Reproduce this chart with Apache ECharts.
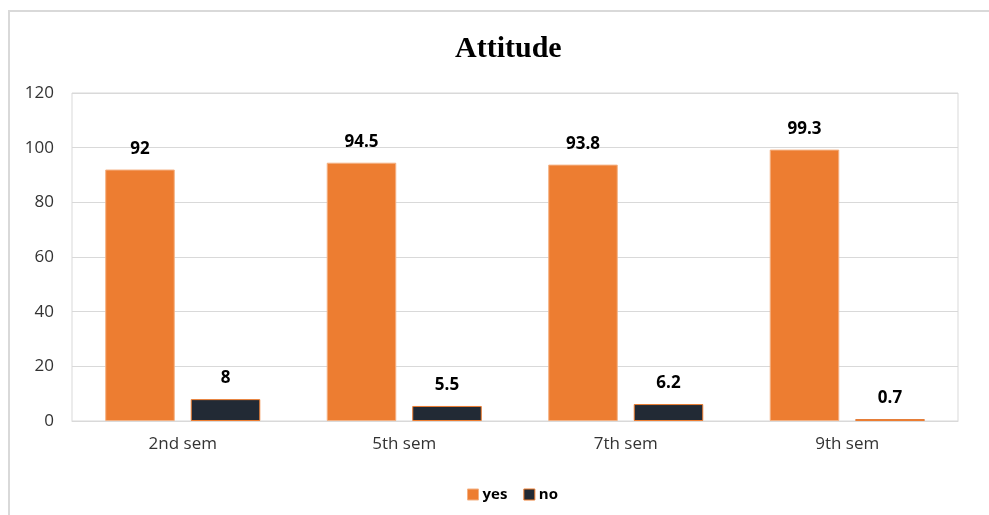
<!DOCTYPE html>
<html>
<head>
<meta charset="utf-8">
<script src="https://cdn.jsdelivr.net/npm/echarts@6/dist/echarts.min.js"></script>
<style>html,body{margin:0;padding:0;background:#fff;}#c{width:989px;height:515px;}</style>
</head>
<body>
<div id="c"></div>
<script>
const categories = ['2nd sem', '5th sem', '7th sem', '9th sem'];
const yesValues = [92, 94.5, 93.8, 99.3];
const noValues = [8, 5.5, 6.2, 0.7];
const yTicks = [0, 20, 40, 60, 80, 100, 120];

const chart = echarts.init(document.getElementById('c'));
const labelStyle = {show: true, position: 'top', distance: 12, fontSize: 17, fontWeight: 'bold', color: '#000', fontFamily: 'Open Sans'};
chart.setOption({
  animation: false,
  title: {text: 'Attitude', left: 450, top: 29, textStyle: {fontFamily: 'Liberation Serif', fontSize: 30, fontWeight: 'bold', color: '#000'}},
  graphic: [
    {type: 'polyline', shape: {points: [[9, 515], [9, 11], [989, 11]]}, style: {stroke: '#d9d9d9', lineWidth: 2, fill: null}}
  ],
  legend: {top: 482, left: 462, itemWidth: 11, itemHeight: 11, itemGap: 16, icon: 'rect',
    itemStyle: {borderWidth: 1},
    textStyle: {fontSize: 15, fontWeight: 'bold', color: '#000', fontFamily: 'Open Sans', padding: [0, 0, 0, -1]}},
  grid: {left: 72, right: 31, top: 93, bottom: 94, show: true, borderColor: '#d9d9d9', borderWidth: 1},
  xAxis: {type: 'category', data: categories,
    axisLine: {lineStyle: {color: '#d9d9d9'}}, axisTick: {show: false},
    axisLabel: {fontSize: 17, color: '#333', margin: 15, fontFamily: 'Open Sans'}},
  yAxis: {type: 'value', min: yTicks[0], max: yTicks[yTicks.length - 1], interval: 20,
    axisLabel: {fontSize: 17, color: '#333', margin: 18, fontFamily: 'Open Sans'},
    splitLine: {lineStyle: {color: '#d9d9d9'}}, axisLine: {show: false}, axisTick: {show: false}},
  series: [
    {name: 'yes', type: 'bar', data: yesValues, barGap: '23%', barCategoryGap: '30%',
      itemStyle: {color: '#ED7D31', borderColor: '#F4B183', borderWidth: 1}, label: labelStyle},
    {name: 'no', type: 'bar', data: noValues,
      itemStyle: {color: '#222A35', borderColor: '#ED7D31', borderWidth: 1}, label: labelStyle}
  ]
});
</script>
</body>
</html>
